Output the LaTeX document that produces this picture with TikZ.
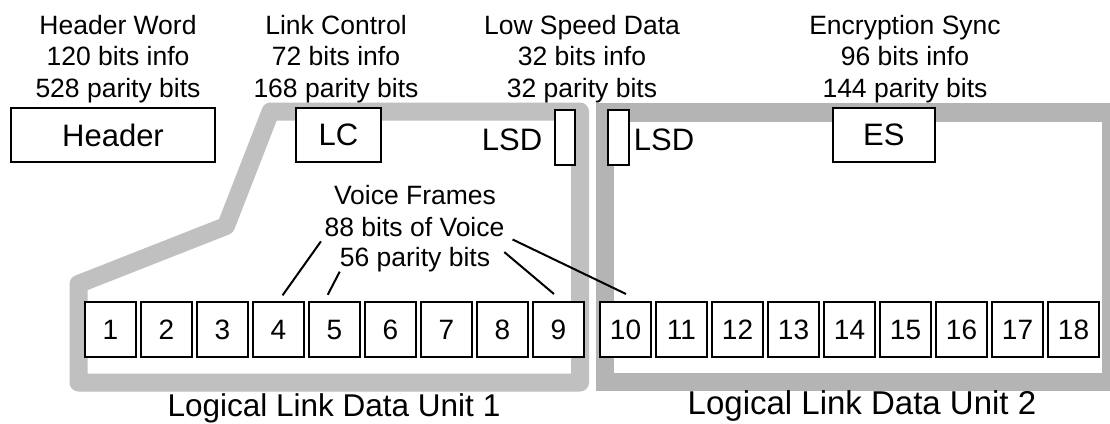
\documentclass[tikz,border=0pt]{standalone}
\usepackage{fontspec}
\setmainfont{Liberation Sans}
\definecolor{unitgray}{HTML}{C0C0C0}
\definecolor{unitgraydark}{HTML}{B4B4B4}

\begin{document}
\begin{tikzpicture}[x=1pt,y=-1pt]
\tikzset{infotxt/.style={align=center, inner sep=0pt, anchor=north, font=\fontsize{26.5}{31.5}\selectfont}}
\tikzset{voicetxt/.style={inner sep=0pt, anchor=base, font=\fontsize{26.5}{31.5}\selectfont}}
\tikzset{fieldbox/.style={draw, fill=white, line width=2.2pt, minimum height=53.8pt, inner sep=0pt, font=\fontsize{31}{36}\selectfont}}
\tikzset{framebox/.style={draw, fill=white, line width=2.2pt, minimum width=50.8pt, minimum height=54.8pt, inner sep=0pt, font=\fontsize{28}{32}\selectfont}}
\tikzset{wire/.style={line width=2pt}}
\clip (0,0) rectangle (1110,423);
\fill[white] (0,0) rectangle (1110,423);
% logical link data units
\draw[line width=18pt, line join=round, unitgray] (580,111.5) -- (270.6,111.5) -- (226,226) -- (78.5,284) -- (78.5,382.5) -- (580,382.5) -- cycle;
\draw[line width=18.5pt, unitgraydark] (605,112.5) rectangle (1111,382);
% field descriptions
\node[infotxt] (hwinfo) at (118,15) {Header Word\\120 bits info\\528 parity bits};
\node[infotxt] (lcinfo) at (336,15) {Link Control\\72 bits info\\168 parity bits};
\node[infotxt] (lsdinfo) at (582,15) {Low Speed Data\\32 bits info\\32 parity bits};
\node[infotxt] (esinfo) at (905,15) {Encryption Sync\\96 bits info\\144 parity bits};
% fields
\node[fieldbox, minimum width=203.8pt] (HW) at (113,135) {Header};
\node[fieldbox, minimum width=84.8pt] (LC) at (338.5,135) {LC};
\node[fieldbox, minimum width=102.3pt] (ES) at (883.8,135) {ES};
\node[fieldbox, minimum width=19.8pt, minimum height=54.8pt] (LSD1) at (565,137.5) {};
\node[fieldbox, minimum width=20.8pt, minimum height=54.8pt] (LSD2) at (618.5,137.5) {};
\node[font=\fontsize{31}{36}\selectfont] (lsdtxt1) at (512,140) {LSD};
\node[font=\fontsize{31}{36}\selectfont] (lsdtxt2) at (664,140) {LSD};
% voice frames
\foreach \i in {1,...,9}
  \node[framebox] (f\i) at ({110.5+56*(\i-1)},329.5) {\i};
\foreach \i in {10,...,18}
  \node[framebox] (f\i) at ({625.5+56*(\i-10)},329.5) {\i};
\node[voicetxt] (vf1) at (415,204) {Voice Frames};
\node[voicetxt] (vf2) at (414.5,236) {88 bits of Voice};
\node[voicetxt] (vf3) at (415,266) {56 parity bits};
\draw[wire, shorten <=6pt, shorten >=7pt] (vf2.south west) -- (f4.north);
\draw[wire, shorten >=7pt] (vf3.south west) -- ([xshift=-10pt]f5.north);
\draw[wire] ([xshift=14pt,yshift=-5.5pt]vf3.north east) -- ([xshift=-4.5pt,yshift=7pt]f9.north);
\draw[wire] ([xshift=8pt,yshift=-3pt]vf2.south east) -- ([xshift=0.5pt,yshift=7pt]f10.north);
% unit labels
\node[anchor=base, font=\fontsize{31.5}{36}\selectfont] (lldu1) at (334,416) {Logical Link Data Unit 1};
\node[anchor=base, font=\fontsize{33}{38}\selectfont] (lldu2) at (862,414) {Logical Link Data Unit 2};
\end{tikzpicture}
\end{document}
